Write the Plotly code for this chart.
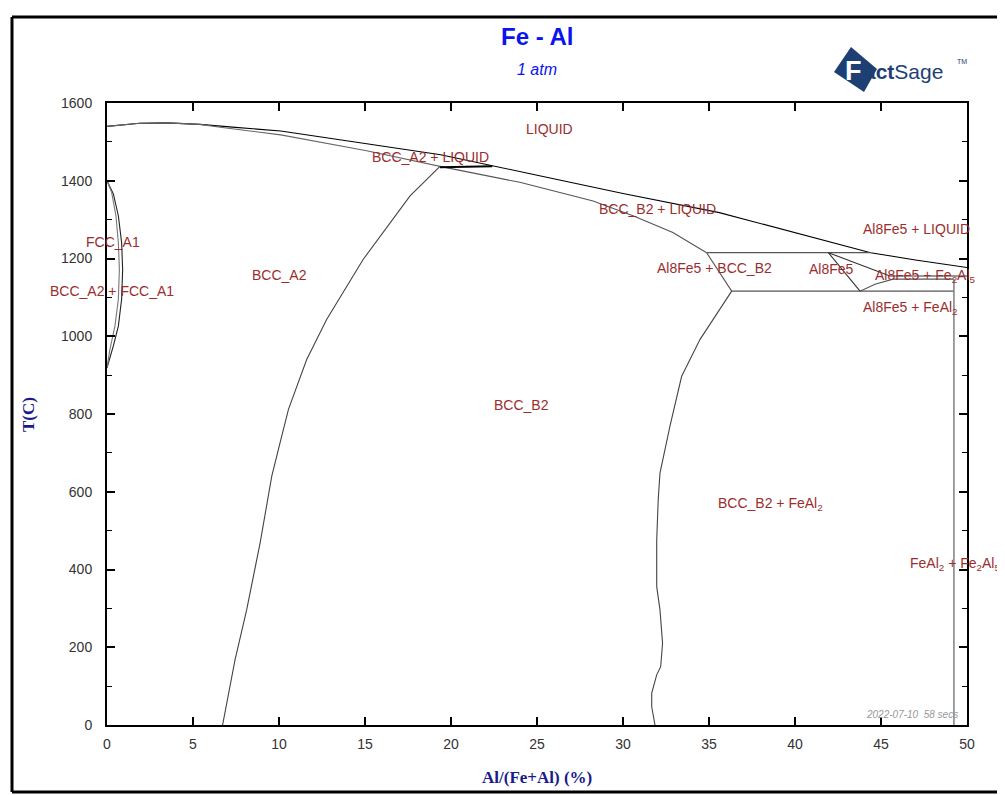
import plotly.graph_objects as go

# ---------------- data ----------------
liquidus_x = [0, 1.9, 3.5, 5.4, 7.3, 10.1, 15.1, 19.4, 24.6, 30.0, 35.6, 40.0, 44.4, 47.0, 50.0]
liquidus_t = [1540, 1548, 1549, 1545, 1538, 1528, 1495, 1467, 1418, 1367, 1318, 1267, 1215, 1196, 1177]

solidus_a2_x = [0, 1.9, 3.5, 5.4, 6.7, 10.1, 15.1, 19.36]
solidus_a2_t = [1540, 1548, 1549, 1545, 1537, 1518, 1477, 1437]

solidus_b2_x = [19.36, 24.0, 28.26, 30.58, 32.9, 34.86]
solidus_b2_t = [1437, 1396, 1348, 1310, 1267, 1215]

short_seg_x = [19.36, 22.4]
short_seg_t = [1435, 1437]

a2b2_x = [19.36, 17.62, 14.90, 12.77, 11.61, 10.55, 10.06, 9.58, 8.90, 8.12, 7.44, 6.72]
a2b2_t = [1437, 1361, 1198, 1043, 940, 812, 726, 640, 468, 296, 167, 0]

fcc_outer_x = [0, 0.37, 0.66, 0.85, 0.91, 0.85, 0.66, 0.37, 0]
fcc_outer_t = [1400, 1366, 1310, 1241, 1172, 1095, 1026, 975, 919]
fcc_inner_x = [0, 0.27, 0.52, 0.66, 0.72, 0.66, 0.46, 0.17, 0]
fcc_inner_t = [1400, 1370, 1310, 1241, 1172, 1095, 1026, 966, 919]

b2_upper_x = [34.86, 36.32]
b2_upper_t = [1215, 1116]

b2_solvus_x = [36.32, 35.64, 34.48, 33.41, 32.73, 32.15, 32.05, 31.96, 31.96, 32.15, 32.3, 32.19, 31.96, 31.67, 31.67, 31.86]
b2_solvus_t = [1116, 1069, 992, 897, 769, 648, 582, 476, 356, 296, 210, 150, 129, 82, 47, 0]

iso_1215_x = [34.86, 44.36]
iso_1215_t = [1215, 1215]
iso_1116_x = [36.32, 49.24]
iso_1116_t = [1116, 1116]

al8_left_x = [41.94, 43.78]
al8_left_t = [1215, 1116]
al8_right_x = [41.94, 45.52, 50.0]
al8_right_t = [1215, 1155, 1155]
al8_lower_x = [43.78, 44.65, 45.7, 49.24]
al8_lower_t = [1116, 1134, 1147, 1147]
vert_x = [49.24, 49.24]
vert_t = [1147, 0]

labels = ["LIQUID", "BCC_A2 + LIQUID", "BCC_B2 + LIQUID", "Al8Fe5 + LIQUID", "FCC_A1",
          "BCC_A2 + FCC_A1", "BCC_A2", "Al8Fe5 + BCC_B2", "Al8Fe5",
          "Al8Fe5 + Fe<sub>2</sub>Al<sub>5</sub>", "Al8Fe5 + FeAl<sub>2</sub>", "BCC_B2",
          "BCC_B2 + FeAl<sub>2</sub>", "FeAl<sub>2</sub> + Fe<sub>2</sub>Al<sub>5</sub>"]
label_x = [25.7, 18.78, 31.98, 47.09, 0.35, 0.29, 10.0, 35.3, 42.15, 47.56, 46.74, 24.07, 38.6, 49.3]
label_t = [1533, 1461, 1327, 1275, 1242, 1116, 1157, 1175, 1172, 1154, 1072, 822, 569, 415]

x_ticks = [0, 5, 10, 15, 20, 25, 30, 35, 40, 45, 50]
y_ticks = [0, 200, 400, 600, 800, 1000, 1200, 1400, 1600]

# ---------------- figure ----------------
fig = go.Figure()

def line(xs, ts, color="#555555", width=1.1):
    fig.add_trace(go.Scatter(x=xs, y=ts, mode="lines", line=dict(color=color, width=width),
                             hoverinfo="skip", showlegend=False))

line(liquidus_x, liquidus_t, "#000000")
line(solidus_a2_x, solidus_a2_t, "#666666")
line(solidus_b2_x, solidus_b2_t, "#555555")
line(short_seg_x, short_seg_t, "#000000", 2)
line(a2b2_x, a2b2_t, "#444444")
line(fcc_outer_x, fcc_outer_t, "#222222")
line(fcc_inner_x, fcc_inner_t, "#777777")
line(b2_upper_x, b2_upper_t, "#555555")
line(b2_solvus_x, b2_solvus_t, "#444444")
line(iso_1215_x, iso_1215_t, "#555555")
line(iso_1116_x, iso_1116_t, "#555555")
line(al8_left_x, al8_left_t, "#333333")
line(al8_right_x, al8_right_t, "#333333")
line(al8_lower_x, al8_lower_t, "#555555")
line(vert_x, vert_t, "#777777", 1.4)

# plot area in screen pixels (page has an 8px body margin)
OFF = 8
L, T, R, B = 107, 103, 967, 725
PW, PH = R - L, B - T

def px(xp):
    return (xp - L) / PW

def py(yp):
    return (B - yp) / PH

def pann(xs, ys, text, font, **kw):
    d = dict(x=px(xs), y=py(ys), xref="paper", yref="paper", text=text, showarrow=False,
             xanchor="center", yanchor="middle", font=font)
    d.update(kw)
    return d

ann = []
for s, xv, tv in zip(labels, label_x, label_t):
    ann.append(dict(x=xv, y=tv, xref="x", yref="y", text=s, showarrow=False,
                    xanchor="center", yanchor="middle",
                    font=dict(family="Arial, Liberation Sans", size=14, color="#9B2D2D")))

ann += [
    pann(537, 36, "<b>Fe - Al</b>", dict(family="Arial, Liberation Sans", size=24, color="#0A14F0")),
    pann(537, 70, "<i>1 atm</i>", dict(family="Arial, Liberation Sans", size=16, color="#0A14F0")),
    pann(28, 415, "<b>T(C)</b>", dict(family="Liberation Serif, Times New Roman", size=17, color="#1A1A8C"),
         textangle=-90),
    pann(537, 777, "<b>Al/(Fe+Al) (%)</b>", dict(family="Liberation Serif, Times New Roman", size=17, color="#1A1A8C")),
    pann(960, 714, "<i>2022-07-10  58 secs</i>", dict(family="Arial, Liberation Sans", size=10, color="#999999"),
         xanchor="right"),
    pann(853, 71, "<b>F</b>", dict(family="Arial, Liberation Sans", size=27, color="#FFFFFF")),
    pann(862, 71, "<b>act</b>Sage", dict(family="Arial, Liberation Sans", size=21, color="#1D3F73"),
         xanchor="left"),
    pann(955, 61, "TM", dict(family="Arial", size=7, color="#1D3F73"), xanchor="left"),
]

diamond = "M {},{} L {},{} L {},{} L {},{} Z".format(
    px(851), py(47), px(877), py(69), px(864), py(92), px(834), py(72))

shapes = [
    dict(type="path", path=diamond, xref="paper", yref="paper",
         fillcolor="#1D3F73", line=dict(width=0), layer="above"),
    dict(type="line", xref="paper", yref="paper", x0=px(12), x1=px(12), y0=py(17), y1=py(792),
         line=dict(color="#000000", width=3)),
    dict(type="line", xref="paper", yref="paper", x0=px(12), x1=px(1010), y0=py(17), y1=py(17),
         line=dict(color="#000000", width=3)),
    dict(type="line", xref="paper", yref="paper", x0=px(12), x1=px(1010), y0=py(792), y1=py(792),
         line=dict(color="#000000", width=3)),
]

tickfont = dict(family="Arial, Liberation Sans", size=14, color="#333333")

fig.update_layout(
    width=1005, height=795,
    margin=dict(l=L - OFF, r=1005 - (R - OFF), t=T - OFF, b=795 - (B - OFF), pad=0),
    paper_bgcolor="white", plot_bgcolor="white",
    annotations=ann, shapes=shapes,
    xaxis=dict(range=[0, 50], tickvals=x_ticks, ticktext=[str(v) for v in x_ticks],
               ticks="inside", ticklen=8, tickwidth=1.5, tickcolor="black", ticklabelstandoff=5,
               showline=True, linecolor="black", linewidth=2, mirror="ticks",
               showgrid=False, zeroline=False, tickfont=tickfont, fixedrange=True),
    yaxis=dict(range=[0, 1600], tickvals=y_ticks, ticktext=[str(v) for v in y_ticks],
               ticks="inside", ticklen=8, tickwidth=1.5, tickcolor="black", ticklabelstandoff=10,
               minor=dict(dtick=100, ticks="inside", ticklen=5, tickwidth=1.2, tickcolor="black"),
               showline=True, linecolor="black", linewidth=2, mirror="ticks",
               showgrid=False, zeroline=False, tickfont=tickfont, fixedrange=True),
)

fig.write_html("out.html")
